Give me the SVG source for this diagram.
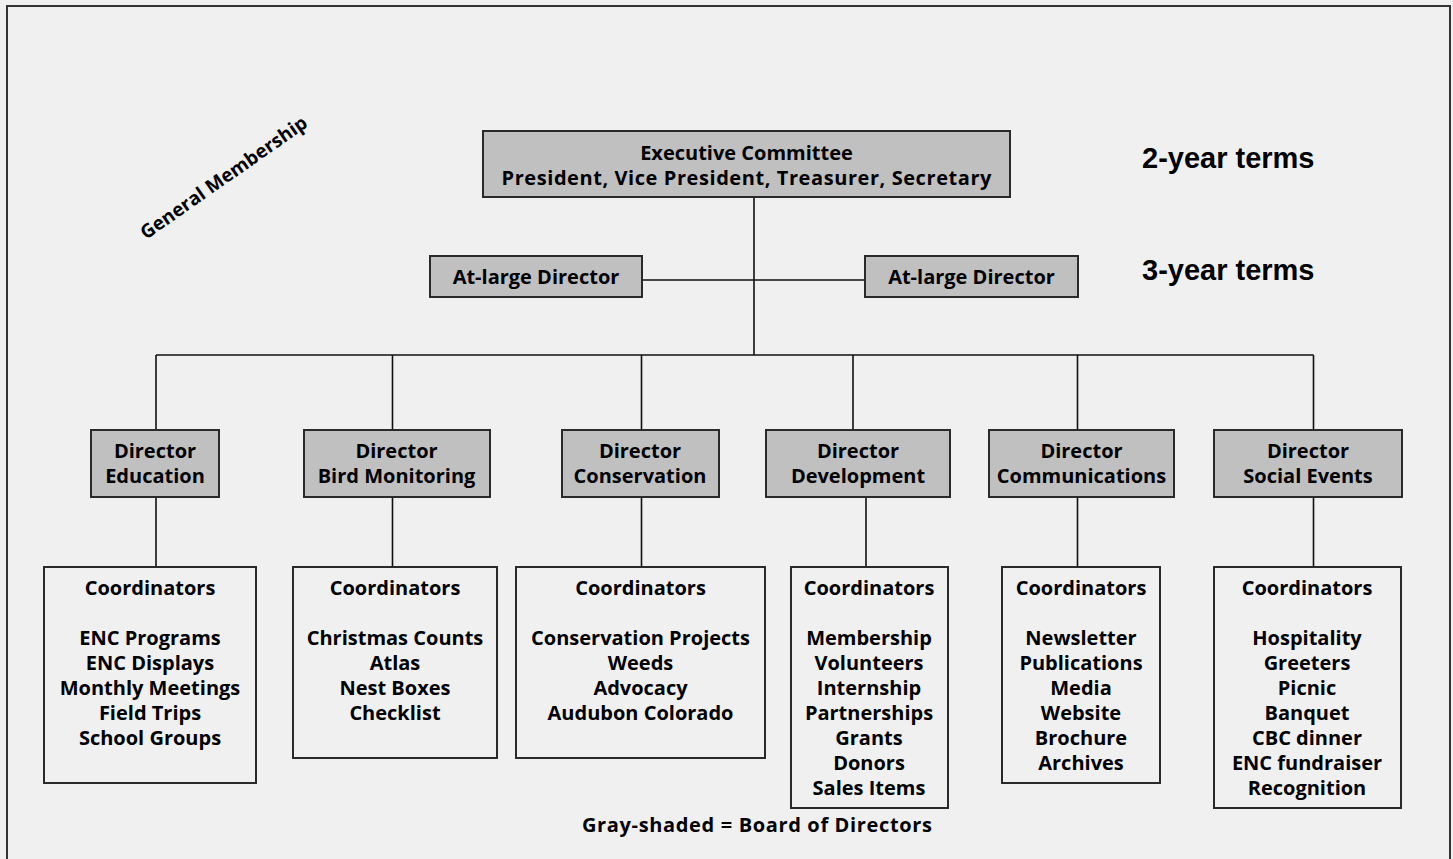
<svg xmlns="http://www.w3.org/2000/svg" width="1453" height="859" viewBox="0 0 1453 859">
<style>
.box{fill:#c0c0c0;stroke:#2a2a2a;stroke-width:2}
.cbox{fill:#f0f0f0;stroke:#2a2a2a;stroke-width:2}
.t{font-family:"Open Sans","DejaVu Sans",sans-serif;font-weight:bold;font-size:20px;text-anchor:middle;fill:#000}
.terms{font-family:"Liberation Sans",Arial,sans-serif;font-weight:bold;font-size:29px;fill:#000}
.conn{stroke:#111;stroke-width:1.6;fill:none}
</style>
<rect x="0" y="0" width="1453" height="859" fill="#f0f0f0"/>
<rect x="7" y="6" width="1443" height="900" fill="none" stroke="#333" stroke-width="2"/>
<text class="t" transform="translate(224,178) rotate(-35)" y="6" style="font-size:19px">General Membership</text>
<text class="terms" x="1142" y="168">2-year terms</text>
<text class="terms" x="1142" y="280">3-year terms</text>
<g id="connectors" class="conn">
<path d="M754 197V355"/>
<path d="M642 280H865"/>
<path d="M156 355H1313.5"/>
<path d="M156 355V430M392.5 355V430M641.5 355V430M853 355V430M1077.5 355V430M1313.5 355V430"/>
<path d="M156 497V567M392.5 497V567M641.5 497V567M866 497V567M1077.5 497V567M1313.5 497V567"/>
</g>
<g id="exec">
<rect class="box" x="483" y="131" width="527" height="66"/>
<text class="t" x="746.5" y="160">Executive Committee</text>
<text class="t" x="746.5" y="185" textLength="490" lengthAdjust="spacing">President, Vice President, Treasurer, Secretary</text>
</g>
<g id="atlarge1">
<rect class="box" x="430" y="256" width="212" height="41"/>
<text class="t" x="536" y="284">At-large Director</text>
</g>
<g id="atlarge2">
<rect class="box" x="865" y="256" width="213" height="41"/>
<text class="t" x="971.5" y="284">At-large Director</text>
</g>
<g id="dir-education">
<rect class="box" x="91" y="430" width="128" height="67"/>
<text class="t" x="155" y="458">Director</text>
<text class="t" x="155" y="483">Education</text>
</g>
<g id="dir-bird">
<rect class="box" x="304" y="430" width="186" height="67"/>
<text class="t" x="396.5" y="458">Director</text>
<text class="t" x="396.5" y="483">Bird Monitoring</text>
</g>
<g id="dir-conservation">
<rect class="box" x="562" y="430" width="157" height="67"/>
<text class="t" x="640" y="458">Director</text>
<text class="t" x="640" y="483">Conservation</text>
</g>
<g id="dir-development">
<rect class="box" x="766" y="430" width="184" height="67"/>
<text class="t" x="858" y="458">Director</text>
<text class="t" x="858" y="483">Development</text>
</g>
<g id="dir-communications">
<rect class="box" x="989" y="430" width="185" height="67"/>
<text class="t" x="1081.5" y="458">Director</text>
<text class="t" x="1081.5" y="483">Communications</text>
</g>
<g id="dir-social">
<rect class="box" x="1214" y="430" width="188" height="67"/>
<text class="t" x="1308" y="458">Director</text>
<text class="t" x="1308" y="483">Social Events</text>
</g>
<g id="coord-education">
<rect class="cbox" x="44" y="567" width="212" height="216"/>
<text class="t" x="150" y="595">Coordinators</text>
<text class="t" x="150" y="645">ENC Programs</text>
<text class="t" x="150" y="670">ENC Displays</text>
<text class="t" x="150" y="695">Monthly Meetings</text>
<text class="t" x="150" y="720">Field Trips</text>
<text class="t" x="150" y="745">School Groups</text>
</g>
<g id="coord-bird">
<rect class="cbox" x="293" y="567" width="204" height="191"/>
<text class="t" x="395" y="595">Coordinators</text>
<text class="t" x="395" y="645">Christmas Counts</text>
<text class="t" x="395" y="670">Atlas</text>
<text class="t" x="395" y="695">Nest Boxes</text>
<text class="t" x="395" y="720">Checklist</text>
</g>
<g id="coord-conservation">
<rect class="cbox" x="516" y="567" width="249" height="191"/>
<text class="t" x="640.5" y="595">Coordinators</text>
<text class="t" x="640.5" y="645">Conservation Projects</text>
<text class="t" x="640.5" y="670">Weeds</text>
<text class="t" x="640.5" y="695">Advocacy</text>
<text class="t" x="640.5" y="720">Audubon Colorado</text>
</g>
<g id="coord-development">
<rect class="cbox" x="791" y="567" width="157" height="241"/>
<text class="t" x="869" y="595">Coordinators</text>
<text class="t" x="869" y="645">Membership</text>
<text class="t" x="869" y="670">Volunteers</text>
<text class="t" x="869" y="695">Internship</text>
<text class="t" x="869" y="720">Partnerships</text>
<text class="t" x="869" y="745">Grants</text>
<text class="t" x="869" y="770">Donors</text>
<text class="t" x="869" y="795">Sales Items</text>
</g>
<g id="coord-communications">
<rect class="cbox" x="1002" y="567" width="158" height="216"/>
<text class="t" x="1081" y="595">Coordinators</text>
<text class="t" x="1081" y="645">Newsletter</text>
<text class="t" x="1081" y="670">Publications</text>
<text class="t" x="1081" y="695">Media</text>
<text class="t" x="1081" y="720">Website</text>
<text class="t" x="1081" y="745">Brochure</text>
<text class="t" x="1081" y="770">Archives</text>
</g>
<g id="coord-social">
<rect class="cbox" x="1214" y="567" width="187" height="241"/>
<text class="t" x="1307" y="595">Coordinators</text>
<text class="t" x="1307" y="645">Hospitality</text>
<text class="t" x="1307" y="670">Greeters</text>
<text class="t" x="1307" y="695">Picnic</text>
<text class="t" x="1307" y="720">Banquet</text>
<text class="t" x="1307" y="745">CBC dinner</text>
<text class="t" x="1307" y="770">ENC fundraiser</text>
<text class="t" x="1307" y="795">Recognition</text>
</g>
<text id="legend" class="t" x="757" y="832" textLength="350" lengthAdjust="spacing">Gray-shaded = Board of Directors</text>
</svg>
